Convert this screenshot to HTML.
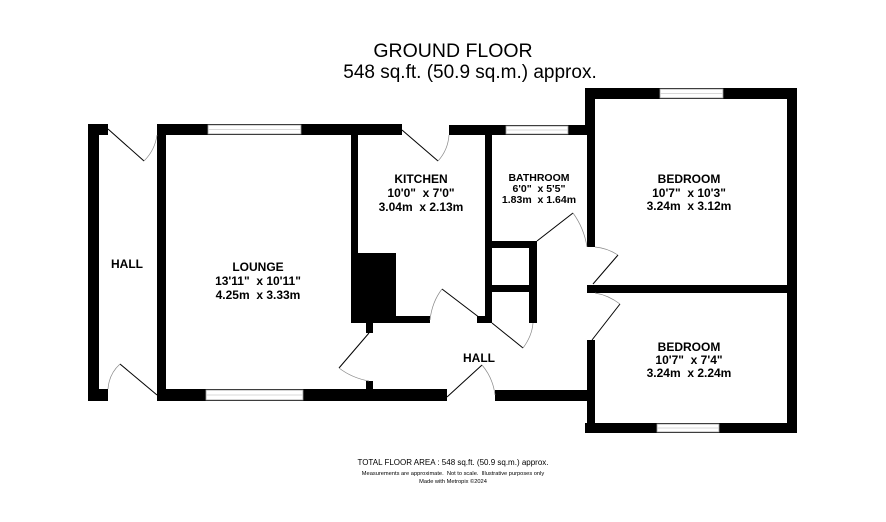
<!DOCTYPE html>
<html><head><meta charset="utf-8"><style>
html,body{margin:0;padding:0;background:#fff;width:886px;height:522px;overflow:hidden}
svg{display:block}
text{font-family:"Liberation Sans",Arial,sans-serif;fill:#000;white-space:pre}
.b{font-weight:bold;font-size:12px}
.s{font-weight:bold;font-size:10.5px}
</style></head><body>
<svg width="886" height="522" viewBox="0 0 886 522" xml:space="preserve">
<g fill="#000">
<rect x="88" y="124" width="11" height="277"/>
<rect x="88" y="124" width="20" height="11"/>
<rect x="88" y="389" width="20" height="12"/>
<rect x="157" y="124" width="9" height="277"/>
<rect x="157" y="124" width="245" height="11"/>
<rect x="157" y="389" width="290" height="12"/>
<rect x="366" y="381" width="7" height="10"/>
<rect x="351" y="135" width="7" height="188"/>
<rect x="358" y="253" width="38" height="70"/>
<rect x="358" y="316" width="72" height="7"/>
<rect x="366" y="323" width="7" height="10"/>
<rect x="449" y="125" width="146" height="10"/>
<rect x="485" y="135" width="7" height="188"/>
<rect x="477" y="316" width="15" height="7"/>
<rect x="492" y="241" width="45" height="7"/>
<rect x="529" y="241" width="8" height="82"/>
<rect x="492" y="285" width="37" height="7"/>
<rect x="585" y="88" width="212" height="11"/>
<rect x="585" y="88" width="10" height="47"/>
<rect x="587" y="135" width="8" height="112"/>
<rect x="787" y="88" width="10" height="345"/>
<rect x="587" y="285" width="210" height="8"/>
<rect x="587" y="340" width="8" height="93"/>
<rect x="585" y="423" width="212" height="10"/>
<rect x="495" y="390" width="100" height="11"/>
</g>
<g fill="#fff" stroke="#999" stroke-width="0.8">
<rect x="208" y="125" width="93" height="9"/>
<rect x="206" y="390" width="97" height="10"/>
<rect x="506" y="126" width="62" height="8"/>
<rect x="660" y="89" width="63" height="9"/>
<rect x="657" y="424" width="62" height="8"/>
</g>
<g stroke="#ccc" stroke-width="0.8">
<line x1="208" y1="129.5" x2="301" y2="129.5"/>
<line x1="206" y1="395" x2="303" y2="395"/>
<line x1="506" y1="130" x2="568" y2="130"/>
<line x1="660" y1="93.5" x2="723" y2="93.5"/>
<line x1="657" y1="428" x2="719" y2="428"/>
</g>
<g fill="none" stroke="#000" stroke-width="1">
<path d="M108 129 L144 161"/><path d="M144 161 Q155 150 157 135" stroke="#888" stroke-width="0.7"/>
<path d="M157 395 L120 364"/><path d="M120 364 Q109 374 108 389" stroke="#888" stroke-width="0.7"/>
<path d="M402 130 L438 161"/><path d="M438 161 Q448 150 449 135" stroke="#888" stroke-width="0.7"/>
<path d="M480 318 L442 289"/><path d="M442 289 Q432 302 430 320" stroke="#888" stroke-width="0.7"/>
<path d="M369 333 L339 368"/><path d="M339 368 Q352 378 369 381" stroke="#888" stroke-width="0.7"/>
<path d="M447 397 L482 365"/><path d="M482 365 Q493 378 495 395" stroke="#888" stroke-width="0.7"/>
<path d="M537 241 L573 213"/><path d="M573 213 Q584 228 587 247" stroke="#888" stroke-width="0.7"/>
<path d="M492 323 L523 348"/><path d="M523 348 Q532 336 533 323" stroke="#888" stroke-width="0.7"/>
<path d="M593 284 L618 255"/><path d="M618 255 Q607 248 595 247" stroke="#888" stroke-width="0.7"/>
<path d="M592 340 L620 304"/><path d="M620 304 Q608 295 595 293" stroke="#888" stroke-width="0.7"/>
</g>
<text x="453" y="57" text-anchor="middle" font-size="19.5">GROUND FLOOR</text>
<text x="470" y="78" text-anchor="middle" font-size="19">548 sq.ft. (50.9 sq.m.) approx.</text>
<text class="b" x="127" y="268" text-anchor="middle">HALL</text>
<g class="b" text-anchor="middle">
<text x="258" y="271">LOUNGE</text>
<text x="258" y="285">13'11"  x 10'11"</text>
<text x="258" y="299">4.25m  x 3.33m</text>
<text x="421" y="183">KITCHEN</text>
<text x="421" y="197">10'0"  x 7'0"</text>
<text x="421" y="211">3.04m  x 2.13m</text>
<text x="689" y="183">BEDROOM</text>
<text x="689" y="197">10'7"  x 10'3"</text>
<text x="689" y="210">3.24m  x 3.12m</text>
<text x="689" y="351">BEDROOM</text>
<text x="689" y="364">10'7"  x 7'4"</text>
<text x="689" y="377">3.24m  x 2.24m</text>
<text x="479" y="362">HALL</text>
</g>
<g class="s" text-anchor="middle">
<text x="539" y="181">BATHROOM</text>
<text x="539" y="192">6'0"  x 5'5"</text>
<text x="539" y="203">1.83m  x 1.64m</text>
</g>
<text x="453" y="465" text-anchor="middle" font-size="8">TOTAL FLOOR AREA : 548 sq.ft. (50.9 sq.m.) approx.</text>
<text x="453" y="475" text-anchor="middle" font-size="5.7">Measurements are approximate.  Not to scale.  Illustrative purposes only</text>
<text x="453" y="483" text-anchor="middle" font-size="5.7">Made with Metropix ©2024</text>
</svg>
</body></html>
